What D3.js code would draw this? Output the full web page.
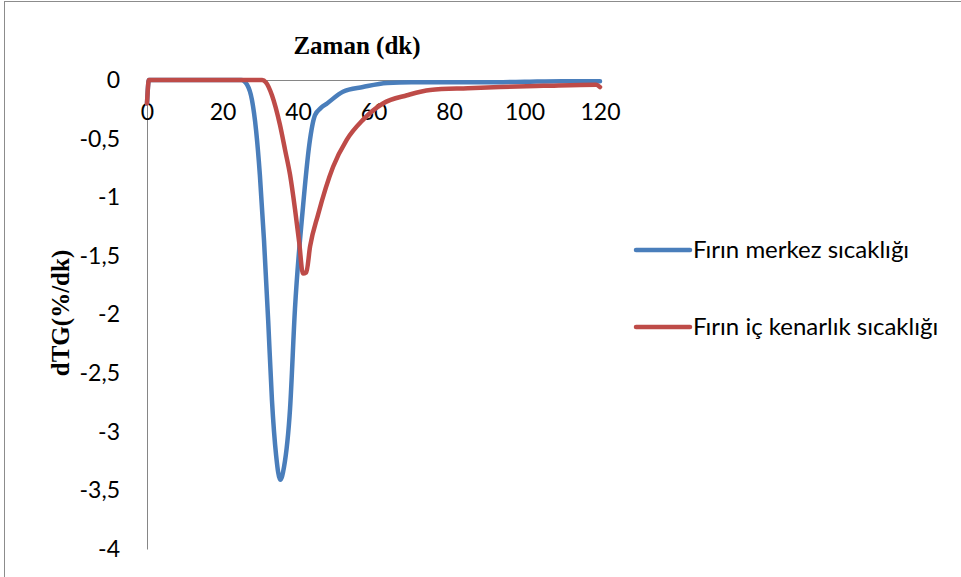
<!DOCTYPE html>
<html>
<head>
<meta charset="utf-8">
<script src="https://cdn.jsdelivr.net/npm/d3@7"></script>
<style>
    body { margin: 0; background: #fff; }
    svg { display: block; }
</style>
</head>
<body>
<div id="vis"></div>
<script>
// data (time in dk, dTG in %/dk)
var seriesNames = ['Fırın merkez sıcaklığı', 'Fırın iç kenarlık sıcaklığı'];
var seriesColors = ['#4A7EBB', '#BE4B48'];

var merkezX = [0, 0.5, 10, 20, 25, 26.5, 27.8, 28.9, 29.9, 31.0, 32.1, 33.1, 34.2, 35.3, 36.3, 37.9, 39.2, 41.3, 43.0, 44.5, 46.0, 47.7, 51.9, 57.2, 63.6, 70, 80, 90, 100, 110, 120];
var merkezY = [-0.2, 0, 0, 0, 0, -0.04, -0.17, -0.43, -0.81, -1.37, -2.05, -2.73, -3.2, -3.41, -3.3, -2.8, -1.95, -1.09, -0.55, -0.3, -0.24, -0.2, -0.1, -0.06, -0.025, -0.02, -0.02, -0.02, -0.015, -0.01, -0.01];

var kenarX = [0, 0.5, 10, 20, 30.5, 31.5, 33.1, 35.2, 36.6, 37.9, 39.2, 40.3, 41.3, 42.2, 43.2, 45.3, 49.3, 52.9, 57.2, 62.5, 68.9, 75, 85, 93.5, 105, 119, 120];
var kenarY = [-0.2, 0, 0, 0, 0, -0.02, -0.13, -0.38, -0.6, -0.81, -1.1, -1.38, -1.65, -1.64, -1.42, -1.15, -0.74, -0.51, -0.34, -0.2, -0.13, -0.085, -0.07, -0.06, -0.05, -0.04, -0.06];

var xTicks = [0, 20, 40, 60, 80, 100, 120];
var yTicks = [0, -0.5, -1, -1.5, -2, -2.5, -3, -3.5, -4];

var series = [
    { name: seriesNames[0], color: seriesColors[0], values: merkezX.map(function(x, i) { return { x: x, y: merkezY[i] }; }) },
    { name: seriesNames[1], color: seriesColors[1], values: kenarX.map(function(x, i) { return { x: x, y: kenarY[i] }; }) }
];

var width = 961, height = 577;
var font = 'Lato, "Open Sans", sans-serif';
var serif = '"Liberation Serif", "DejaVu Serif", serif';

var svg = d3.select('#vis')
    .append('svg')
        .attr('width', width)
        .attr('height', height);

// chart frame
svg.append('rect')
    .attr('x', 4.5).attr('y', 1.5)
    .attr('width', 970).attr('height', 590)
    .attr('fill', 'none')
    .attr('stroke', '#8c8c8c')
    .attr('stroke-width', 1);

var x = d3.scaleLinear().domain([0, 120]).range([147, 600]);
var y = d3.scaleLinear().domain([-4, 0]).range([549, 80]);

// y axis
var yAxis = svg.append('g')
    .attr('transform', 'translate(' + x(0) + ',0)')
    .call(d3.axisLeft(y).tickValues(yTicks).tickSize(0).tickPadding(27)
        .tickFormat(function(d) { return String(d).replace('.', ','); }));
yAxis.select('.domain').attr('stroke', '#868686');
yAxis.selectAll('text')
    .attr('font-family', font).attr('font-size', 23).attr('fill', '#000');

// x axis, drawn at y = 0 with labels hanging below
var xAxis = svg.append('g')
    .attr('transform', 'translate(0,' + y(0) + ')')
    .call(d3.axisBottom(x).tickValues(xTicks).tickSize(0).tickPadding(24));
xAxis.select('.domain').attr('stroke', '#868686');
xAxis.selectAll('text')
    .attr('font-family', font).attr('font-size', 23).attr('fill', '#000');

// lines
var line = d3.line()
    .x(function(d) { return x(d.x); })
    .y(function(d) { return y(d.y); })
    .curve(d3.curveMonotoneX);

svg.selectAll('.series')
    .data(series)
    .enter()
    .append('path')
        .attr('class', 'series')
        .attr('d', function(d) { return line(d.values); })
        .attr('fill', 'none')
        .attr('stroke', function(d) { return d.color; })
        .attr('stroke-width', 4.5)
        .attr('stroke-linecap', 'round')
        .attr('stroke-linejoin', 'round');

// titles
svg.append('text')
    .attr('x', 357).attr('y', 54)
    .attr('text-anchor', 'middle')
    .attr('font-family', serif).attr('font-weight', 'bold').attr('font-size', 25)
    .text('Zaman (dk)');

svg.append('text')
    .attr('transform', 'translate(69,313) rotate(-90)')
    .attr('text-anchor', 'middle')
    .attr('font-family', serif).attr('font-weight', 'bold').attr('font-size', 25)
    .text('dTG(%/dk)');

// legend
var legend = svg.selectAll('.legend')
    .data(series)
    .enter()
    .append('g')
        .attr('class', 'legend')
        .attr('transform', function(d, i) { return 'translate(636,' + (250 + i * 77) + ')'; });

legend.append('line')
    .attr('x1', 0).attr('x2', 54)
    .attr('stroke', function(d) { return d.color; })
    .attr('stroke-width', 4.5)
    .attr('stroke-linecap', 'round');

legend.append('text')
    .attr('x', 57).attr('y', 8)
    .attr('font-family', font).attr('font-size', 24)
    .text(function(d) { return d.name; });
</script>
</body>
</html>
